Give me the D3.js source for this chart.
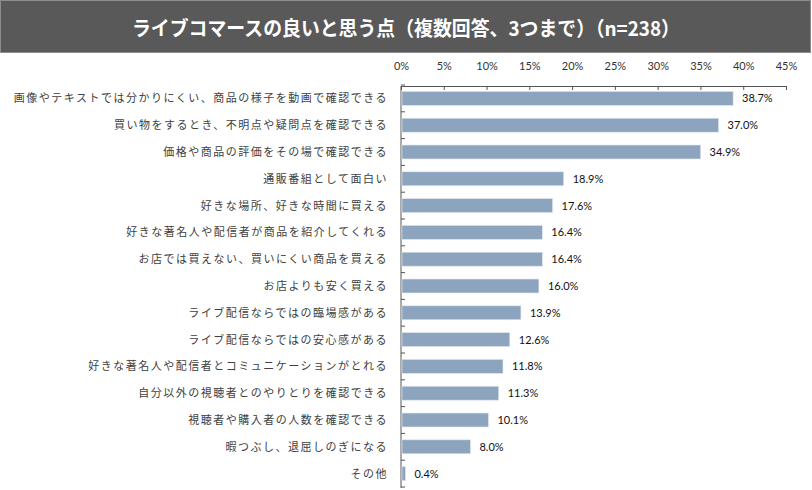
<!DOCTYPE html>
<html>
<head>
<meta charset="utf-8">
<script src="https://cdn.jsdelivr.net/npm/d3@7"></script>
<style>
  body { margin: 0; background: #fff; }
</style>
</head>
<body>
<script>
// Chart data
const categories = [
    "画像やテキストでは分かりにくい、商品の様子を動画で確認できる",
    "買い物をするとき、不明点や疑問点を確認できる",
    "価格や商品の評価をその場で確認できる",
    "通販番組として面白い",
    "好きな場所、好きな時間に買える",
    "好きな著名人や配信者が商品を紹介してくれる",
    "お店では買えない、買いにくい商品を買える",
    "お店よりも安く買える",
    "ライブ配信ならではの臨場感がある",
    "ライブ配信ならではの安心感がある",
    "好きな著名人や配信者とコミュニケーションがとれる",
    "自分以外の視聴者とのやりとりを確認できる",
    "視聴者や購入者の人数を確認できる",
    "暇つぶし、退屈しのぎになる",
    "その他"
];
const values = [38.7, 37.0, 34.9, 18.9, 17.6, 16.4, 16.4, 16.0, 13.9, 12.6, 11.8, 11.3, 10.1, 8.0, 0.4];
const xTicks = [0, 5, 10, 15, 20, 25, 30, 35, 40, 45];
const title = "ライブコマースの良いと思う点（複数回答、3つまで）（n=238）";

const W = 812, H = 490;
const jp = "'Noto Sans CJK JP', sans-serif";
const num = "Lato, 'Open Sans', sans-serif";

const svg = d3.select("body").append("svg")
    .attr("width", W)
    .attr("height", H);

// Title bar
svg.append("rect")
    .attr("x", 0.5).attr("y", 0.5)
    .attr("width", W - 2).attr("height", 52)
    .attr("fill", "#595959")
    .attr("stroke", "#8c8c8c");

svg.append("text")
    .attr("x", W / 2)
    .attr("y", 27)
    .attr("text-anchor", "middle")
    .attr("dominant-baseline", "central")
    .attr("font-family", jp)
    .attr("font-weight", "bold")
    .attr("font-size", 20)
    .attr("fill", "#fff")
    .attr("textLength", 548)
    .attr("lengthAdjust", "spacingAndGlyphs")
    .text(title);

// Scales
const x = d3.scaleLinear().domain([0, 45]).range([401, 786]);
const y = d3.scaleBand().domain(categories).range([85, 487]).paddingInner(0.48).paddingOuter(0.24);

// Top axis
const xAxis = svg.append("g")
    .attr("transform", "translate(0,86)")
    .call(d3.axisTop(x).tickValues(xTicks).tickSizeInner(-4).tickSizeOuter(0).tickFormat(d => d + "%"));
xAxis.select(".domain").attr("stroke", "#555");
xAxis.selectAll(".tick line").attr("stroke", "#555");
xAxis.selectAll(".tick text")
    .attr("y", -16)
    .attr("font-family", num)
    .attr("font-size", 11)
    .attr("fill", "#333");

// Left axis line and category ticks
const yAxis = svg.append("g")
    .attr("transform", "translate(401,0)")
    .call(d3.axisLeft(y).tickSize(0).tickFormat(""));
yAxis.select(".domain").attr("stroke", "#555").attr("d", "M0,86V488");
yAxis.selectAll(".tick").remove();

const bounds = categories.map(c => y(c) - y.step() * y.paddingInner() / 2).concat([487]);
yAxis.selectAll(".cat-tick")
    .data(bounds)
    .enter()
    .append("line")
    .attr("x1", 0).attr("x2", 4)
    .attr("y1", d => d).attr("y2", d => d)
    .attr("stroke", "#555");

// Bars
svg.selectAll(".bar")
    .data(values)
    .enter()
    .append("rect")
    .attr("x", x(0) + 1)
    .attr("y", (d, i) => y(categories[i]))
    .attr("width", d => x(d) - x(0))
    .attr("height", y.bandwidth())
    .attr("fill", "#8DA4BF")
    .attr("stroke", "#dfe5ee")
    .attr("stroke-width", 0.6);

// Category labels
svg.selectAll(".label")
    .data(categories)
    .enter()
    .append("text")
    .attr("x", 388)
    .attr("y", d => y(d) + y.bandwidth() / 2)
    .attr("dy", ".36em")
    .attr("text-anchor", "end")
    .attr("font-family", jp)
    .attr("font-size", 11)
    .attr("letter-spacing", 1.5)
    .attr("fill", "#404040")
    .text(d => d);

// Value labels
svg.selectAll(".value")
    .data(values)
    .enter()
    .append("text")
    .attr("x", d => x(d) + 10)
    .attr("y", (d, i) => y(categories[i]) + y.bandwidth() / 2)
    .attr("dy", ".36em")
    .attr("font-family", num)
    .attr("font-size", 11)
    .attr("fill", "#111")
    .text(d => d.toFixed(1) + "%");
</script>
</body>
</html>
